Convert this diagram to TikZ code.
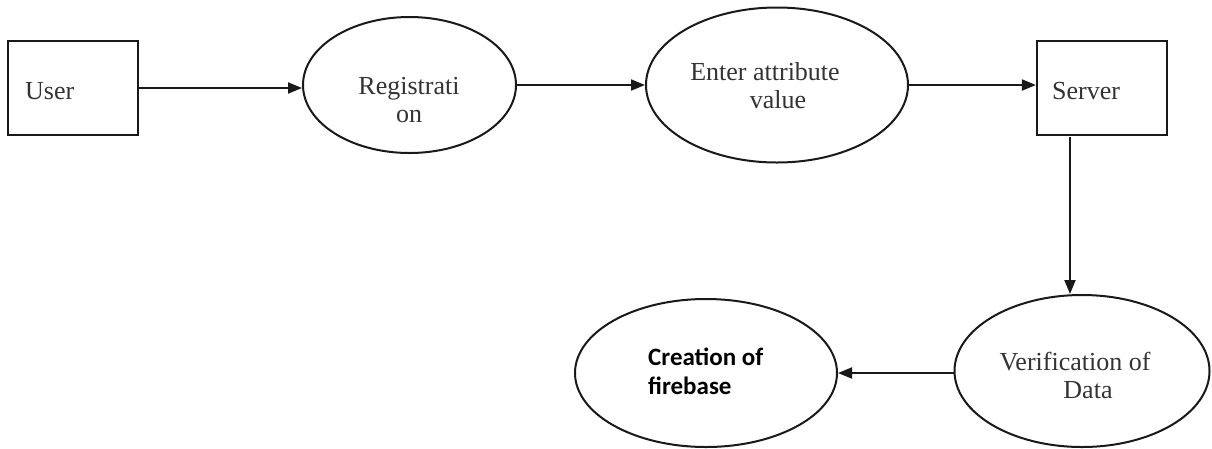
\documentclass[tikz,border=0pt]{standalone}
\usepackage{fontspec}
\setmainfont{Liberation Serif}
\newfontfamily\calib{Carlito}
\usetikzlibrary{arrows.meta,shapes.geometric}
\tikzset{
  box/.style={draw=black!90,line width=2.2pt,rectangle,inner sep=0pt},
  proc/.style={draw=black!90,line width=2pt,ellipse,inner sep=0pt},
  lbl/.style={font=\fontsize{26}{29}\selectfont,text=black!80,inner sep=0pt,align=center},
  sanslbl/.style={font=\calib\bfseries\fontsize{25}{28}\selectfont,text=black,inner sep=0pt,align=left},
  flow/.style={line width=2pt,draw=black!90,-{Triangle[length=14pt,width=11pt]}}
}
\begin{document}
\begin{tikzpicture}[x=1pt,y=-1pt]
\useasboundingbox (0,0) rectangle (1212,448);
% nodes
\node[box,minimum width=130pt,minimum height=94pt] (user) at (73,88) {};
\node[lbl,anchor=west] (usert) at (25,91) {User};
\node[proc,minimum width=213pt,minimum height=136pt] (reg) at (409.5,85) {};
\node[lbl] (regt1) at (409,89) {Registrati};
\node[lbl] (regt2) at (409,116) {on};
\node[proc,minimum width=262pt,minimum height=155pt] (ent) at (777,85) {};
\node[lbl] (entt1) at (765,72) {Enter attribute};
\node[lbl] (entt2) at (778,100) {value};
\node[box,minimum width=130pt,minimum height=94pt] (srv) at (1102,88) {};
\node[lbl,anchor=west] (srvt) at (1052,91) {Server};
\node[proc,minimum width=255pt,minimum height=152pt] (ver) at (1082,371) {};
\node[lbl] (vert1) at (1075,362) {Verification of};
\node[lbl] (vert2) at (1088,390) {Data};
\node[proc,minimum width=262pt,minimum height=148pt] (cre) at (706,373) {};
\node[sanslbl,anchor=west] (cret1) at (648,357) {Creation of};
\node[sanslbl,anchor=west] (cret2) at (648,386) {firebase};
\coordinate (vx) at (1070,137);
% connectors
\draw[flow] (user.east) -- (user.east -| reg.west);
\draw[flow] (reg.east) -- (ent.west);
\draw[flow] (ent.east) -- (ent.east -| srv.west);
\draw[flow] (vx) -- (vx |- ver.north);
\draw[flow] (ver.west |- cre.east) -- (cre.east);
\end{tikzpicture}
\end{document}
